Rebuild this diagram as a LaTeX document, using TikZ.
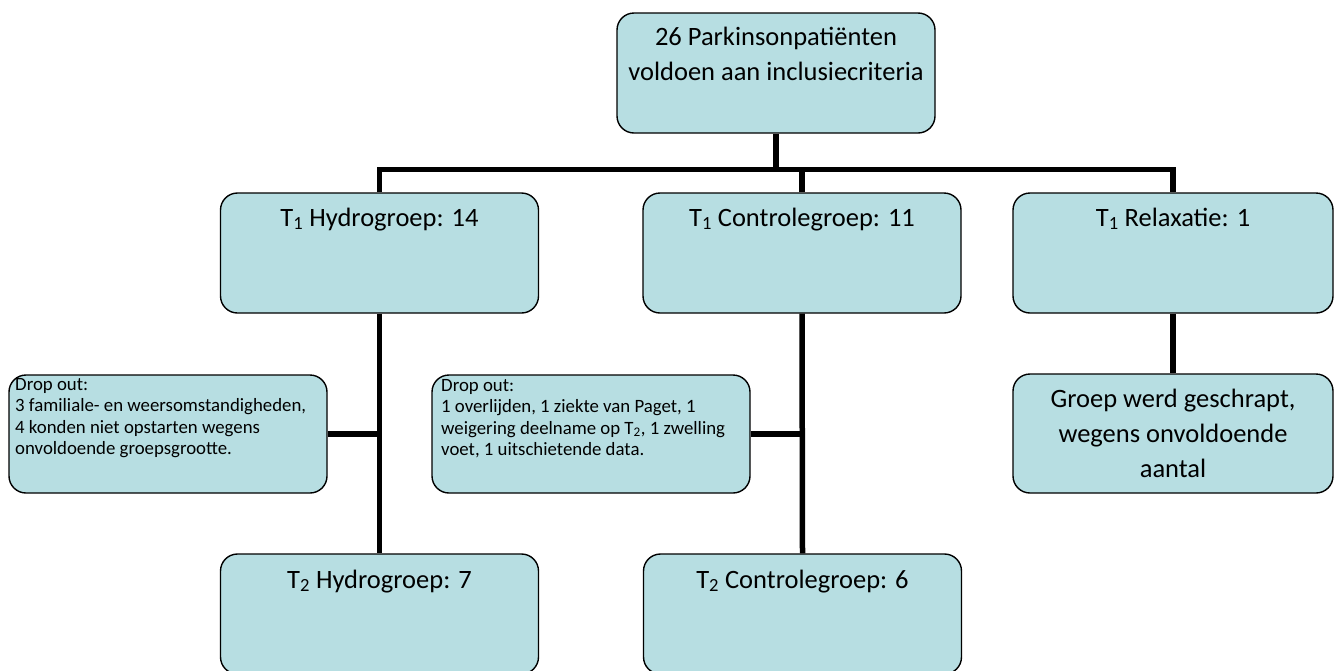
\documentclass[tikz,border=0pt]{standalone}
\usepackage{fontspec}
\setmainfont{Carlito}
\definecolor{boxfill}{RGB}{183,222,226}
\begin{document}
\begin{tikzpicture}[x=1pt,y=-1pt,
  box/.style={draw=black, line width=1.4pt, fill=boxfill, rounded corners=17pt, inner sep=0pt, minimum width=318pt},
  conn/.style={line width=5.5pt},
  big/.style={font=\fontsize{26.5}{35}\selectfont, inner sep=0pt, align=center},
  small/.style={font=\fontsize{18.8}{21.5}\selectfont, inner sep=0pt, align=left}]
\useasboundingbox (0,0) rectangle (1338,670);

% boxes
\node[box, minimum height=120pt] (top) at (776,73) {};
\node[box, minimum height=120pt] (h1) at (379.5,253) {};
\node[box, minimum height=120pt] (c1) at (802,253) {};
\node[box, minimum width=320pt, minimum height=120pt] (r1) at (1173,253) {};
\node[box, minimum width=320pt, minimum height=119pt] (g) at (1173,433.5) {};
\node[box, minimum height=118pt] (d1) at (168,434) {};
\node[box, minimum height=118pt] (d2) at (591,434) {};
\node[box, minimum height=120pt] (h2) at (379.5,614) {};
\node[box, minimum height=120pt] (c2) at (802.5,614) {};

% connectors
\coordinate (j) at (776,169.5);
\draw[conn] (top.south) -- (j);
\draw[conn] (h1.north) -- (h1.north |- j) -- (r1.north |- j) -- (r1.north);
\draw[conn] (c1.north) -- (c1.north |- j);
\draw[conn] (h1.south) -- (h2.north);
\draw[conn] (c1.south) -- (c2.north);
\draw[conn] (r1.south) -- (g.north);
\draw[conn] (d1.east) -- (d1.east -| h1.south);
\draw[conn] (d2.east) -- (d2.east -| c1.south);

% texts (base anchor = baseline of last line)
\node[big, anchor=base] (ttop) at (776,80) {26 Parkinsonpatiënten\\voldoen aan inclusiecriteria};
\node[big, anchor=base] (th1) at (379.5,226) {T\textsubscript{1} Hydrogroep: 14};
\node[big, anchor=base] (tc1) at (802,226) {T\textsubscript{1} Controlegroep: 11};
\node[big, anchor=base] (tr1) at (1173,226) {T\textsubscript{1} Relaxatie: 1};
\node[big, anchor=base] (tg) at (1173,477) {Groep werd geschrapt,\\wegens onvoldoende\\aantal};
\node[big, anchor=base] (th2) at (379.5,588) {T\textsubscript{2} Hydrogroep: 7};
\node[big, anchor=base] (tc2) at (802.5,588) {T\textsubscript{2} Controlegroep: 6};
\node[small, anchor=base west] (td1) at (15,454.5) {Drop out:\\3 familiale- en weersomstandigheden,\\4 konden niet opstarten wegens\\onvoldoende groepsgrootte.};
\node[small, anchor=base west] (td2) at (441,455.5) {Drop out:\\1 overlijden, 1 ziekte van Paget, 1\\weigering deelname op T\textsubscript{2}, 1 zwelling\\voet, 1 uitschietende data.};
\end{tikzpicture}
\end{document}
